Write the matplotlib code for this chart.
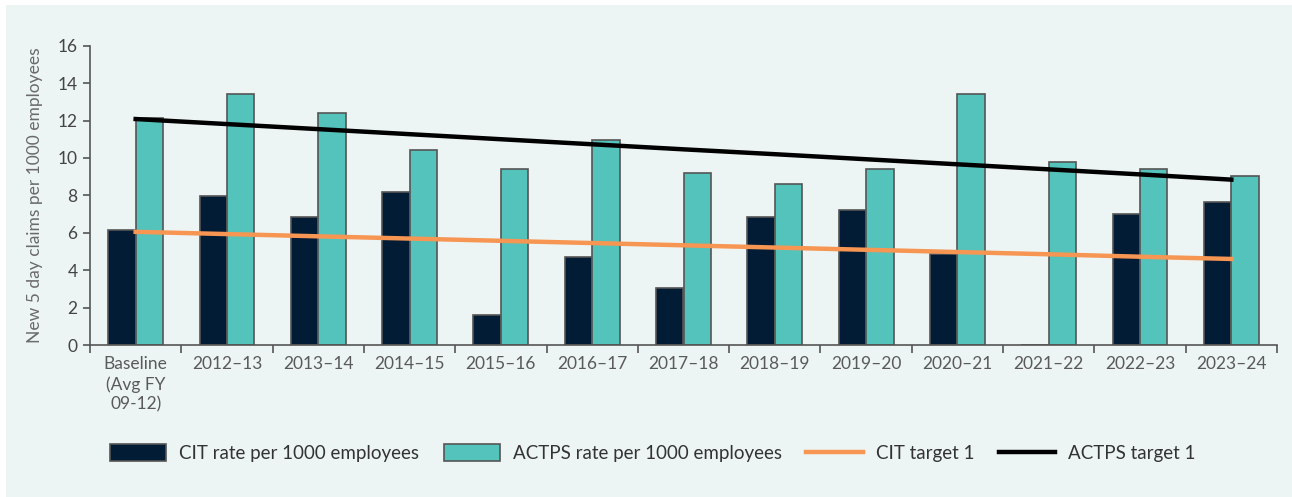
import numpy as np
import matplotlib
matplotlib.use("Agg")
from matplotlib import pyplot as plt
from matplotlib.patches import Rectangle
from matplotlib.ticker import FixedLocator

categories = ["Baseline\n(Avg FY\n09-12)", "2012–13", "2013–14", "2014–15", "2015–16",
              "2016–17", "2017–18", "2018–19", "2019–20", "2020–21", "2021–22",
              "2022–23", "2023–24"]
cit_rate = [6.15, 7.95, 6.83, 8.18, 1.59, 4.69, 3.05, 6.83, 7.22, 4.88, 0, 7.0, 7.66]
actps_rate = [12.16, 13.4, 12.39, 10.45, 9.42, 10.96, 9.21, 8.61, 9.43, 13.4, 9.77, 9.43, 9.05]
cit_target = [6.05, 5.93, 5.81, 5.69, 5.57, 5.45, 5.33, 5.21, 5.09, 4.97, 4.85, 4.72, 4.6]
actps_target = [12.08, 11.81, 11.54, 11.27, 11.0, 10.73, 10.46, 10.2, 9.93, 9.66, 9.39, 9.12, 8.84]

bg = "#ECF5F3"
txt = "#5a5a5a"
plt.rcParams['font.family'] = ['Lato', 'DejaVu Sans']

fig = plt.figure(figsize=(12.92, 4.97), dpi=100)
fig.patch.set_facecolor("white")
fig.patches.append(Rectangle((6 / 1292, 0), 1 - 6 / 1292, 1 - 5 / 497,
                             transform=fig.transFigure, facecolor=bg, edgecolor="none", zorder=-10))

ax = fig.add_axes([90 / 1292, 1 - 345 / 497, (1277 - 90) / 1292, (345 - 45.7) / 497])
ax.set_facecolor("none")

x = np.arange(len(categories))
w = 0.3
b1 = ax.bar(x - w / 2, cit_rate, w, color="#021C36", edgecolor="#555555", linewidth=1.2,
            label="CIT rate per 1000 employees", zorder=2)
b2 = ax.bar(x + w / 2, actps_rate, w, color="#54C3BB", edgecolor="#555555", linewidth=1.2,
            label="ACTPS rate per 1000 employees", zorder=2)
l1, = ax.plot(x, cit_target, color="#F79552", linewidth=3.2, label="CIT target 1", zorder=3)
l2, = ax.plot(x, actps_target, color="black", linewidth=3.2, label="ACTPS target 1", zorder=3)

ax.set_xlim(-0.5, len(categories) - 0.5)
ax.set_ylim(0, 16)
ax.set_yticks(range(0, 17, 2))
ax.set_xticks(x)
ax.set_xticklabels(categories, linespacing=1.3)
ax.xaxis.set_minor_locator(FixedLocator(np.arange(-0.5, len(categories), 1)))
ax.tick_params(axis="x", which="major", length=0, pad=8, labelsize=12.5, labelcolor=txt)
ax.tick_params(axis="x", which="minor", length=6, width=1.2, color="#555555")
ax.tick_params(axis="y", length=5, width=1.2, color="#555555", labelsize=12.5, labelcolor="#444444", pad=4)

for s in ["top", "right"]:
    ax.spines[s].set_visible(False)
for s in ["left", "bottom"]:
    ax.spines[s].set_color("#555555")
    ax.spines[s].set_linewidth(1.2)

ax.set_ylabel("New 5 day claims per 1000 employees", fontsize=12.5, color="#6a6a6a", labelpad=10)

leg = fig.legend([b1, b2, l1, l2], [h.get_label() for h in (b1, b2, l1, l2)],
                 loc="center left", bbox_to_anchor=(93 / 1292, 1 - 453 / 497), ncol=4,
                 frameon=False, fontsize=13.5, handlelength=3.0, handleheight=1.0,
                 columnspacing=1.3, handletextpad=0.7, labelcolor="#333333")

fig.savefig("out.png", dpi=100, facecolor=fig.get_facecolor())
